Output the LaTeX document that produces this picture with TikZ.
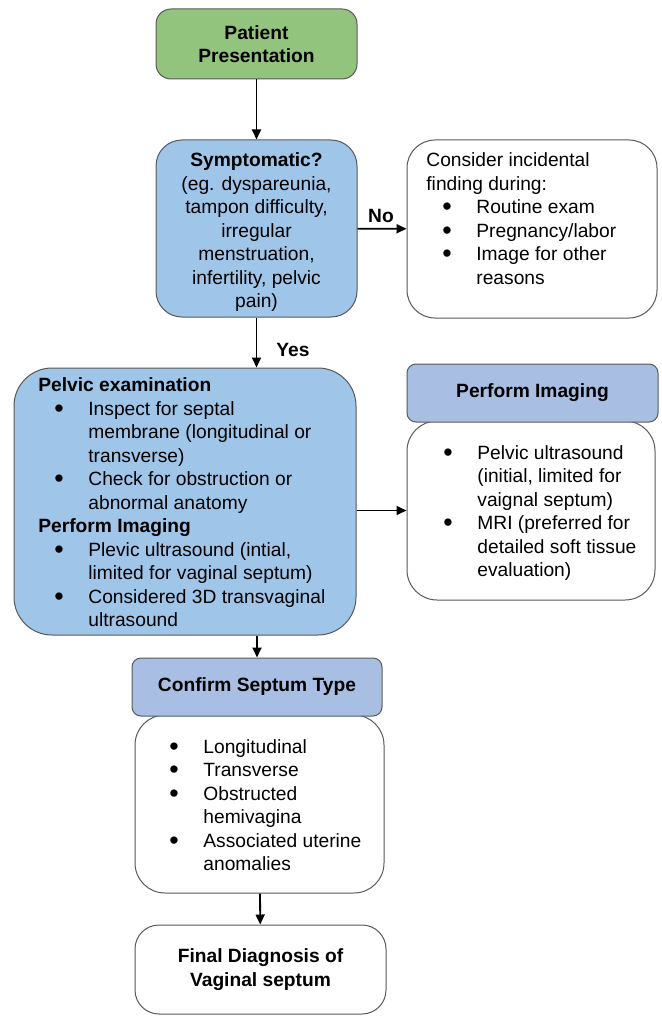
\documentclass[tikz,border=0pt]{standalone}
\usepackage{fontspec}
\setmainfont{Liberation Sans}
\usepackage{array}
\usetikzlibrary{arrows.meta, positioning, calc}
\definecolor{ptgreen}{HTML}{93C47D}
\definecolor{ptblue}{HTML}{9FC5E8}
\definecolor{pthead}{HTML}{A8BFE3}
\definecolor{ptgray}{HTML}{595959}
\newcommand{\bul}{\makebox[16.5pt][l]{\hspace{-0.5pt}\raisebox{-1pt}[0pt][0pt]{\scalebox{1.4}{\textbullet}}}}
\newcommand{\flowfont}{\fontsize{9.6}{11.75}\selectfont}

\begin{document}
\begin{tikzpicture}[x=0.5pt, y=-0.5pt,
  flowbox/.style={draw=ptgray, line width=0.5pt, align=center, inner sep=0pt, font=\flowfont},
  listtext/.style={anchor=north west, inner sep=0pt, font=\flowfont},
  flowarrow/.style={-{Triangle[length=5pt, width=4.5pt]}, line width=0.9pt, black}]
  \useasboundingbox (0,0) rectangle (661,1016);

  % Main column
  \node[flowbox, fill=ptgreen, minimum width=100.5pt, minimum height=35pt, rounded corners=7.5pt]
    (patient) at (256.5,44) {\textbf{Patient}\\\textbf{Presentation}};
  \node[flowbox, fill=ptblue, minimum width=100.5pt, minimum height=88.5pt, rounded corners=13pt]
    (symptom) at (256.5,228.5) {};
  \node[listtext, anchor=north] (symptom-txt) at (256.5,150) {%
    \begin{tabular}{@{}c@{}}
      \textbf{Symptomatic?}\\
      (eg. dyspareunia,\\
      tampon difficulty,\\
      irregular\\
      menstruation,\\
      infertility, pelvic\\
      pain)
    \end{tabular}};
  \node[flowbox, fill=ptblue, minimum width=171pt, minimum height=133.5pt, rounded corners=19pt]
    (pelvic) at (185,501.5) {};
  \node[listtext] (pelvic-txt) at (38,375) {%
    \begin{tabular}{@{\hspace{8.5pt}}l@{}l@{}}
      \multicolumn{2}{@{}l@{}}{\textbf{Pelvic examination}}\\
      \bul & Inspect for septal\\
           & membrane (longitudinal or\\
           & transverse)\\
      \bul & Check for obstruction or\\
           & abnormal anatomy\\
      \multicolumn{2}{@{}l@{}}{\textbf{Perform Imaging}}\\
      \bul & Plevic ultrasound (intial,\\
           & limited for vaginal septum)\\
      \bul & Considered 3D transvaginal\\
           & ultrasound
    \end{tabular}};

  % Right column
  \node[flowbox, fill=white, minimum width=125pt, minimum height=89pt, rounded corners=14pt]
    (consider) at (532,229) {};
  \node[listtext] (consider-txt) at (426,150) {%
    \begin{tabular}{@{\hspace{8.5pt}}l@{}l@{}}
      \multicolumn{2}{@{}l@{}}{Consider incidental}\\
      \multicolumn{2}{@{}l@{}}{finding during:}\\
      \bul & Routine exam\\
      \bul & Pregnancy/labor\\
      \bul & Image for other\\
           & reasons
    \end{tabular}};
  \node[flowbox, fill=white, minimum width=124pt, minimum height=89.5pt, rounded corners=15pt]
    (imgbody) at (531,510.5) {};
  \node[flowbox, fill=pthead, minimum width=125.5pt, minimum height=29pt, rounded corners=4.5pt]
    (imghead) at (532.5,393) {\textbf{Perform Imaging}};
  \node[listtext] (imgbody-txt) at (426,442.5) {%
    \begin{tabular}{@{\hspace{9pt}}l@{}l@{}}
      \bul & Pelvic ultrasound\\
           & (initial, limited for\\
           & vaignal septum)\\
      \bul & MRI (preferred for\\
           & detailed soft tissue\\
           & evaluation)
    \end{tabular}};

  % Septum type and diagnosis
  \node[flowbox, fill=white, minimum width=124.5pt, minimum height=89pt, rounded corners=15pt]
    (confbody) at (259.5,804) {};
  \node[flowbox, fill=pthead, minimum width=125pt, minimum height=29pt, rounded corners=4.5pt]
    (confhead) at (257,687) {\textbf{Confirm Septum Type}};
  \node[listtext] (confbody-txt) at (153,736.5) {%
    \begin{tabular}{@{\hspace{8.5pt}}l@{}l@{}}
      \bul & Longitudinal\\
      \bul & Transverse\\
      \bul & Obstructed\\
           & hemivagina\\
      \bul & Associated uterine\\
           & anomalies
    \end{tabular}};
  \node[flowbox, fill=white, minimum width=125.5pt, minimum height=44.5pt, rounded corners=12pt]
    (final) at (260.5,969.5) {\textbf{Final Diagnosis of}\\\textbf{Vaginal septum}};

  % Arrows
  \draw[flowarrow] (patient) -- (symptom);
  \draw[flowarrow] (symptom) -- (consider);
  \node[font=\flowfont\bfseries] (no-lbl) at (381,216) {No};
  \draw[flowarrow] (symptom) -- (pelvic.north -| symptom);
  \node[font=\flowfont\bfseries] (yes-lbl) at (293,350) {Yes};
  \draw[flowarrow] (pelvic.east |- imgbody) -- (imgbody.west);
  \draw[flowarrow] (pelvic.south -| confhead) -- (confhead);
  \draw[flowarrow] (confbody) -- (final);
\end{tikzpicture}
\end{document}
